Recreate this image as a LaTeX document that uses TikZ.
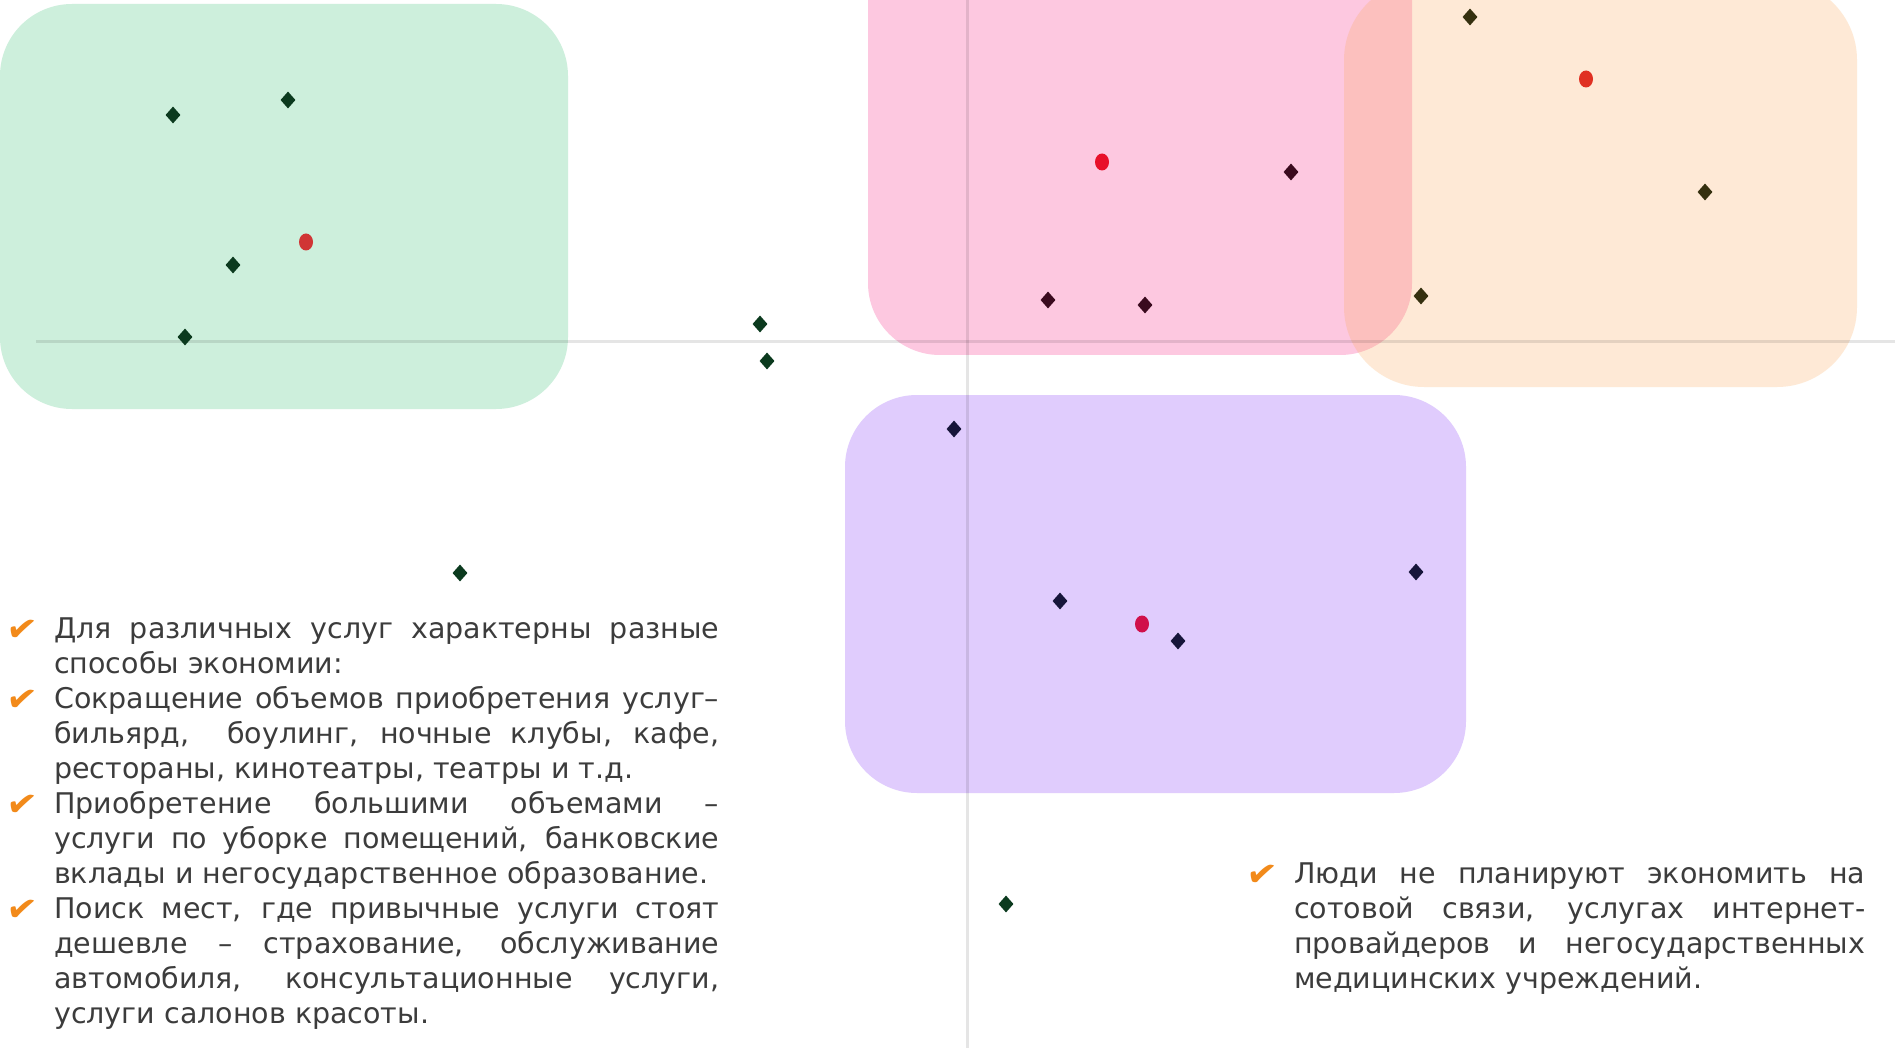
\documentclass[tikz,border=0pt]{standalone}
\usepackage{fontspec}
\setmainfont{DejaVu Sans}
\usetikzlibrary{shapes.geometric}
\definecolor{gbox}{HTML}{CDEFDC}
\definecolor{pbox}{HTML}{FDC8E0}
\definecolor{obox}{RGB}{251,167,84}
\definecolor{vbox}{HTML}{E0CCFD}
\definecolor{txt}{HTML}{3C3C3C}
\definecolor{chk}{HTML}{F28A1A}
\definecolor{dg}{HTML}{0B3A1E}
\definecolor{dm}{HTML}{3A0A1E}
\definecolor{dol}{HTML}{35300F}
\definecolor{dn}{HTML}{17153A}
\definecolor{r1}{HTML}{D03535}
\definecolor{r2}{HTML}{E8102A}
\definecolor{r3}{HTML}{E03022}
\definecolor{r4}{HTML}{D0104A}
\tikzset{
 box/.style={rounded corners=72pt},
 dia/.style={diamond, inner sep=0pt, minimum width=15pt, minimum height=17pt, fill=#1},
 dia/.default=black,
 rdot/.style={ellipse, inner sep=0pt, minimum width=14pt, minimum height=17pt, fill=#1},
 rdot/.default=red,
 ln/.style={anchor=base west, inner sep=0pt, text=txt, font=\fontsize{28.5}{35}\selectfont},
 ax/.style={line width=3pt, black, opacity=0.1},
}
\newcommand\jl[1]{\makebox[665pt][s]{#1}}
\newcommand\jr[1]{\makebox[571pt][s]{#1}}
\newcommand\ck{\llap{\textcolor{chk}{\fontsize{36}{36}\selectfont\raisebox{-1pt}{\rotatebox{-8}{✔}}}\hspace{16pt}}}
\begin{document}
\begin{tikzpicture}[x=1pt,y=-1pt]
\useasboundingbox (0,0) rectangle (1895,1048);
\clip (0,0) rectangle (1895,1048);
\fill[white] (0,0) rectangle (1895,1048);
% boxes
\fill[gbox, box] (0,4) rectangle (568,409);
\fill[pbox, box] (868,-100) rectangle (1412,355);
\fill[obox, fill opacity=0.24, rounded corners=80pt] (1344,-20) rectangle (1857,387);
\fill[vbox, box] (845,395) rectangle (1466,793);
% axes
\coordinate (hx1) at (36,342);
\coordinate (hx2) at (1895,342);
\coordinate (vy1) at (967,0);
\coordinate (vy2) at (967,1048);
\draw[ax] (hx1) -- (hx2);
\draw[ax] (vy1) -- (vy2);
% green cluster
\node[dia=dg] (g1) at (173,115) {};
\node[dia=dg] (g2) at (288,100) {};
\node[rdot=r1] (g3) at (306,242) {};
\node[dia=dg] (g4) at (233,265) {};
\node[dia=dg] (g5) at (185,337) {};
% free points
\node[dia=dg] (f1) at (760,324) {};
\node[dia=dg] (f2) at (767,361) {};
\node[dia=dg] (f3) at (460,573) {};
\node[dia=dg] (f4) at (1006,904) {};
% pink cluster
\node[rdot=r2] (p1) at (1102,162) {};
\node[dia=dm] (p2) at (1291,172) {};
\node[dia=dm] (p3) at (1048,300) {};
\node[dia=dm] (p4) at (1145,305) {};
% orange cluster
\node[dia=dol] (o1) at (1470,17) {};
\node[rdot=r3] (o2) at (1586,79) {};
\node[dia=dol] (o3) at (1705,192) {};
\node[dia=dol] (o4) at (1421,296) {};
% purple cluster
\node[dia=dn] (v1) at (954,429) {};
\node[dia=dn] (v2) at (1060,601) {};
\node[rdot=r4] (v3) at (1142,624) {};
\node[dia=dn] (v4) at (1178,641) {};
\node[dia=dn] (v5) at (1416,572) {};
% left text
\node[ln] (l1) at (54,638) {\ck\jl{Для различных услуг характерны разные}};
\node[ln] (l2) at (54,673) {способы экономии:};
\node[ln] (l3) at (54,708) {\ck\jl{Сокращение объемов приобретения услуг–}};
\node[ln] (l4) at (54,743) {\jl{бильярд,\ \ боулинг, ночные клубы, кафе,}};
\node[ln] (l5) at (54,778) {рестораны, кинотеатры, театры и т.д.};
\node[ln] (l6) at (54,813) {\ck\jl{Приобретение большими объемами –}};
\node[ln] (l7) at (54,848) {\jl{услуги по уборке помещений, банковские}};
\node[ln] (l8) at (54,883) {вклады и негосударственное образование.};
\node[ln] (l9) at (54,918) {\ck\jl{Поиск мест, где привычные услуги стоят}};
\node[ln] (l10) at (54,953) {\jl{дешевле – страхование, обслуживание}};
\node[ln] (l11) at (54,988) {\jl{автомобиля, консультационные услуги,}};
\node[ln] (l12) at (54,1023) {услуги салонов красоты.};
% right text
\node[ln] (q1) at (1294,883) {\ck\jr{Люди не планируют экономить на}};
\node[ln] (q2) at (1294,918) {\jr{сотовой связи, услугах интернет-}};
\node[ln] (q3) at (1294,953) {\jr{провайдеров и негосударственных}};
\node[ln] (q4) at (1294,988) {медицинских учреждений.};
\end{tikzpicture}
\end{document}
